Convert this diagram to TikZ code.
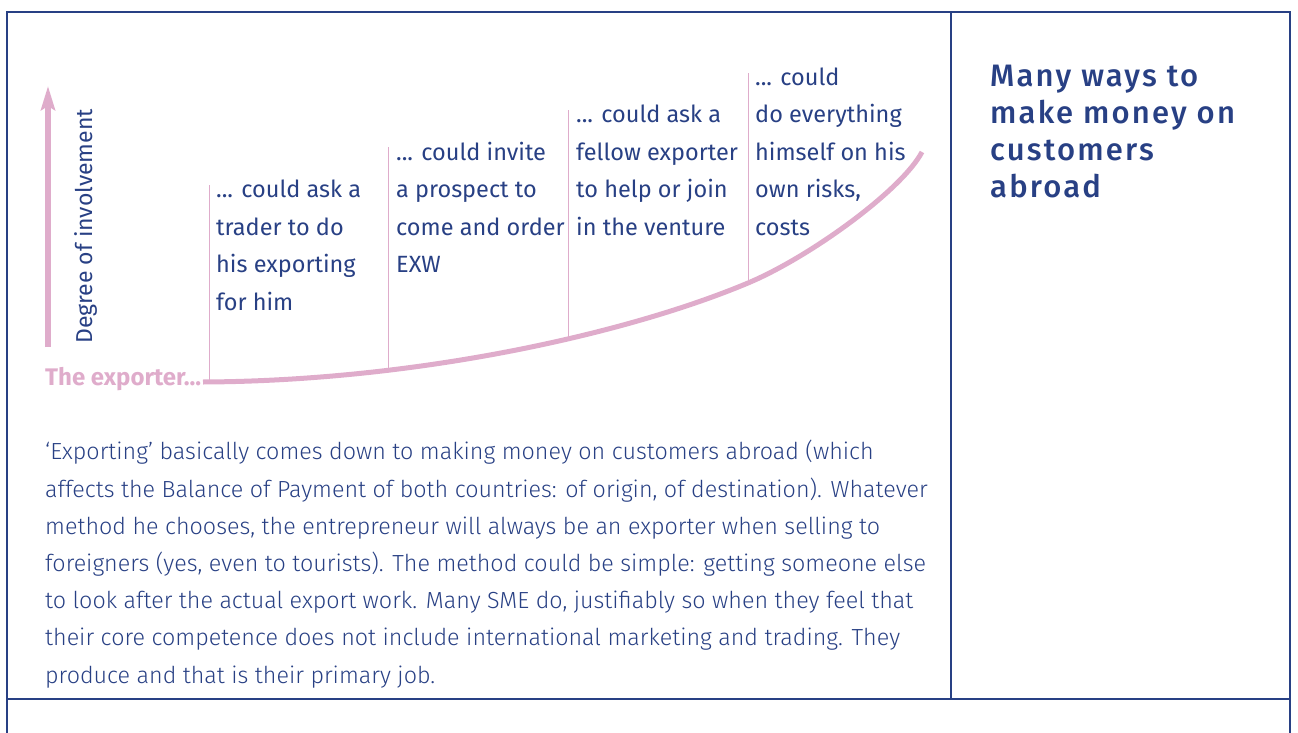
\documentclass[tikz,border=0pt]{standalone}
\usepackage{fontspec}
\setmainfont{Fira Sans}
\newfontfamily\lightfont{Fira Sans Light}
\newfontfamily\titlefont[LetterSpace=7]{Fira Sans Medium}
\usetikzlibrary{arrows.meta}
\definecolor{navy}{RGB}{40,64,132}
\definecolor{rose}{RGB}{223,172,203}

\begin{document}
\begin{tikzpicture}[x=1pt,y=-1pt]
\tikzset{frame/.style = {draw=navy, line width=2pt}}
\tikzset{rule/.style = {draw=navy, line width=1.3pt}}
\tikzset{ltext/.style = {anchor=base west, inner sep=0pt, align=left, text=navy, font=\fontsize{23.5}{37.5}\selectfont}}
\tikzset{lline/.style = {draw=rose, line width=1pt}}
\tikzset{curve/.style = {draw=rose, line width=5pt}}
\useasboundingbox (0,0) rectangle (1298,733);
% frame
\draw[frame] (7,733) -- (7,12) -- (1290,12) -- (1290,733);
\draw[rule] (7,699) -- (1290,699);
\draw[rule] (951,12) -- (951,699);
% axis
\coordinate (a_bot) at (48,347);
\coordinate (a_top) at (48,86);
\draw[rose, line width=6pt, -{Stealth[length=24pt,width=14pt,inset=4pt]}] (a_bot) -- (a_top);
\node[rotate=90, anchor=base west, inner sep=0pt, text=navy, font=\fontsize{23}{23}\selectfont] (deg) at (92,344) {Degree of involvement};
\node[anchor=base west, inner sep=0pt, text=rose, font=\fontsize{24}{24}\selectfont\bfseries] (exp) at (45,385) {The exporter...};
% curve
\coordinate (c_0) at (203,382);
\coordinate (c_1) at (209,382);
\coordinate (c_2) at (388,371);
\coordinate (c_3) at (568,340);
\coordinate (c_4) at (748,283);
\coordinate (c_5) at (922,152);
\draw[curve] (c_0) .. controls (420,381) and (630,332.6) .. (c_4)
  .. controls (810,257) and (902,190) .. (c_5);
\coordinate (t_1) at (209,185);
\coordinate (t_2) at (388,147);
\coordinate (t_3) at (568,110);
\coordinate (t_4) at (748,73);
\draw[lline] (c_1) to (t_1);
\draw[lline] (c_2) to (t_2);
\draw[lline] (c_3) to (t_3);
\draw[lline] (c_4) to (t_4);
% steps (anchored at the last line)
\node[ltext] (s_1) at (216,310) {... could ask a\\trader to do\\his exporting\\for him};
\node[ltext] (s_2) at (396,272.5) {... could invite\\a prospect to\\come and order\\EXW};
\node[ltext] (s_3) at (576,235) {... could ask a\\fellow exporter\\to help or join\\in the venture};
\node[ltext] (s_4) at (755,235) {... could\\do everything\\himself on his\\own risks,\\costs};
% title
\node[anchor=base west, inner sep=0pt, align=left, text=navy, font=\titlefont\fontsize{31}{36.7}\selectfont] (title) at (990,197) {Many ways to\\make money on\\customers\\abroad};
% body
\node[anchor=base west, inner sep=0pt, align=left, text=navy, font=\lightfont\fontsize{23.3}{37.2}\selectfont] (body) at (45,683) {%
‘Exporting’ basically comes down to making money on customers abroad (which\\
affects the Balance of Payment of both countries: of origin, of destination). Whatever\\
method he chooses, the entrepreneur will always be an exporter when selling to\\
foreigners (yes, even to tourists). The method could be simple: getting someone else\\
to look after the actual export work. Many SME do, justifiably so when they feel that\\
their core competence does not include international marketing and trading. They\\
produce and that is their primary job.};
\end{tikzpicture}
\end{document}
